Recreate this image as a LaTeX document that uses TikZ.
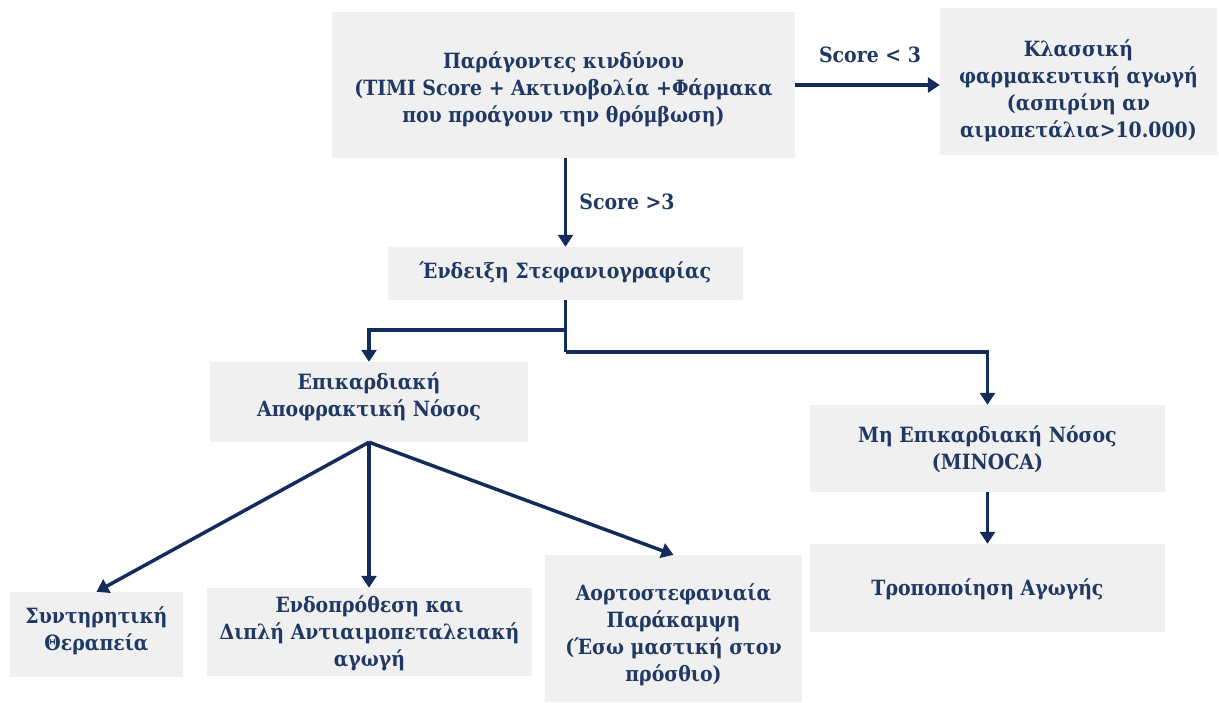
\documentclass[tikz,border=0pt]{standalone}
\usepackage{fontspec}
\setmainfont{DejaVu Serif Condensed}
\usetikzlibrary{arrows.meta}
\definecolor{navy}{HTML}{1F3864}
\definecolor{linenavy}{HTML}{142C5C}
\definecolor{boxgray}{HTML}{F0F0F0}
\begin{document}
\begin{tikzpicture}[x=1pt, y=-1pt,
  box/.style={fill=boxgray, draw=none, inner sep=0pt},
  txt/.style={text=navy, font=\bfseries\fontsize{21}{27}\selectfont, align=center, inner sep=0pt},
  arr/.style={draw=linenavy, line width=3.5pt, -{Triangle[length=12pt,width=15pt]}},
  seg/.style={draw=linenavy, line width=3.5pt}]
\useasboundingbox (0,0) rectangle (1219,702);

% boxes
\node[box, minimum width=463pt, minimum height=146pt] (top)  at (563.5,85)  {};
\node[box, minimum width=277pt, minimum height=147pt] (klass) at (1078.5,81.5) {};
\node[box, minimum width=355pt, minimum height=53pt]  (endeixi) at (565.5,273.5) {};
\node[box, minimum width=318pt, minimum height=80pt]  (epik) at (369,402) {};
\node[box, minimum width=355pt, minimum height=87pt]  (mi)   at (987.5,448.5) {};
\node[box, minimum width=355pt, minimum height=88pt]  (trop) at (987.5,588) {};
\node[box, minimum width=173pt, minimum height=85pt]  (synt) at (96.5,634.5) {};
\node[box, minimum width=325pt, minimum height=88pt]  (endo) at (369.5,632) {};
\node[box, minimum width=257pt, minimum height=147pt] (aort) at (673.5,628.5) {};

% box texts
\node[txt] (top-t) at (563.5,89) {Παράγοντες κινδύνου\\(TIMI Score + Ακτινοβολία +Φάρμακα\\που προάγουν την θρόμβωση)};
\node[txt] (klass-t) at (1078.5,91) {Κλασσική\\φαρμακευτική αγωγή\\(ασπιρίνη αν\\αιμοπετάλια>10.000)};
\node[txt] (endeixi-t) at (565.5,272) {Ένδειξη Στεφανιογραφίας};
\node[txt] (epik-t) at (369,397) {Επικαρδιακή\\Αποφρακτική Νόσος};
\node[txt] (mi-t) at (987.5,449.5) {Μη Επικαρδιακή Νόσος\\(MINOCA)};
\node[txt] (trop-t) at (987.5,589) {Τροποποίηση Αγωγής};
\node[txt] (synt-t) at (96.5,631) {Συντηρητική\\Θεραπεία};
\node[txt] (endo-t) at (369.5,633) {Ενδοπρόθεση και\\Διπλή Αντιαιμοπεταλειακή\\αγωγή};
\node[txt] (aort-t) at (673.5,634.5) {Αορτοστεφανιαία\\Παράκαμψη\\(Έσω μαστική στον\\πρόσθιο)};

% edge labels
\node[txt] (lt3) at (870,55) {Score < 3};
\node[txt] (gt3) at (627,202) {Score >3};

% connectors
\draw[arr] (top.east) -- (klass.west |- top.east);
\draw[arr] (endeixi.north |- top.south) -- (endeixi.north);
\coordinate (split) at (endeixi.south |- 0,352);
\coordinate (branch) at (endeixi.south |- 0,330);
\draw[seg] (endeixi.south) -- (split);
\draw[arr] (split) -| (mi.north);
\draw[arr] (branch) -| (epik.north);
\draw[arr] (mi.south) -- (trop.north);
\draw[arr] (epik.south) -- (synt.north);
\draw[arr] (epik.south) -- (epik.south |- endo.north);
\draw[arr] (epik.south) -- (aort.north);
\end{tikzpicture}
\end{document}
